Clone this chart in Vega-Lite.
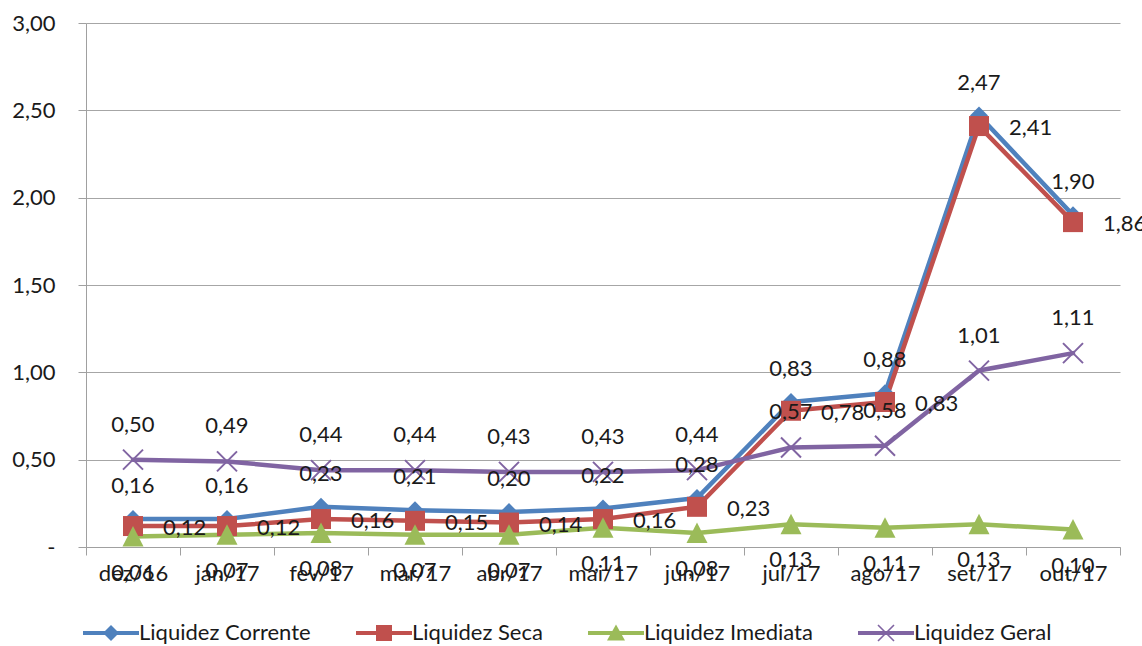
{
  "$schema": "https://vega.github.io/schema/vega-lite/v6.json",
  "width": 1034,
  "height": 524,
  "autosize": {"type": "none"},
  "padding": {"left": 86, "top": 23, "right": 22, "bottom": 99},
  "background": "white",
  "config": {
    "view": {"stroke": null},
    "font": "Lato",
    "locale": {"number": {"decimal": ",", "thousands": ".", "grouping": [3], "currency": ["R$", ""]}},
    "axis": {"labelFont": "Lato", "labelFontSize": 22, "labelColor": "#1a1a1a", "domainColor": "#a0a0a0", "tickColor": "#a0a0a0", "gridColor": "#a6a6a6", "title": null}
  },
  "data": {"values": [
    {"mes": "dez/16", "serie": "Liquidez Corrente", "valor": 0.16},
    {"mes": "jan/17", "serie": "Liquidez Corrente", "valor": 0.16},
    {"mes": "fev/17", "serie": "Liquidez Corrente", "valor": 0.23},
    {"mes": "mar/17", "serie": "Liquidez Corrente", "valor": 0.21},
    {"mes": "abr/17", "serie": "Liquidez Corrente", "valor": 0.20},
    {"mes": "mai/17", "serie": "Liquidez Corrente", "valor": 0.22},
    {"mes": "jun/17", "serie": "Liquidez Corrente", "valor": 0.28},
    {"mes": "jul/17", "serie": "Liquidez Corrente", "valor": 0.83},
    {"mes": "ago/17", "serie": "Liquidez Corrente", "valor": 0.88},
    {"mes": "set/17", "serie": "Liquidez Corrente", "valor": 2.47},
    {"mes": "out/17", "serie": "Liquidez Corrente", "valor": 1.90},
    {"mes": "dez/16", "serie": "Liquidez Seca", "valor": 0.12},
    {"mes": "jan/17", "serie": "Liquidez Seca", "valor": 0.12},
    {"mes": "fev/17", "serie": "Liquidez Seca", "valor": 0.16},
    {"mes": "mar/17", "serie": "Liquidez Seca", "valor": 0.15},
    {"mes": "abr/17", "serie": "Liquidez Seca", "valor": 0.14},
    {"mes": "mai/17", "serie": "Liquidez Seca", "valor": 0.16},
    {"mes": "jun/17", "serie": "Liquidez Seca", "valor": 0.23},
    {"mes": "jul/17", "serie": "Liquidez Seca", "valor": 0.78},
    {"mes": "ago/17", "serie": "Liquidez Seca", "valor": 0.83},
    {"mes": "set/17", "serie": "Liquidez Seca", "valor": 2.41},
    {"mes": "out/17", "serie": "Liquidez Seca", "valor": 1.86},
    {"mes": "dez/16", "serie": "Liquidez Imediata", "valor": 0.06},
    {"mes": "jan/17", "serie": "Liquidez Imediata", "valor": 0.07},
    {"mes": "fev/17", "serie": "Liquidez Imediata", "valor": 0.08},
    {"mes": "mar/17", "serie": "Liquidez Imediata", "valor": 0.07},
    {"mes": "abr/17", "serie": "Liquidez Imediata", "valor": 0.07},
    {"mes": "mai/17", "serie": "Liquidez Imediata", "valor": 0.11},
    {"mes": "jun/17", "serie": "Liquidez Imediata", "valor": 0.08},
    {"mes": "jul/17", "serie": "Liquidez Imediata", "valor": 0.13},
    {"mes": "ago/17", "serie": "Liquidez Imediata", "valor": 0.11},
    {"mes": "set/17", "serie": "Liquidez Imediata", "valor": 0.13},
    {"mes": "out/17", "serie": "Liquidez Imediata", "valor": 0.10},
    {"mes": "dez/16", "serie": "Liquidez Geral", "valor": 0.50},
    {"mes": "jan/17", "serie": "Liquidez Geral", "valor": 0.49},
    {"mes": "fev/17", "serie": "Liquidez Geral", "valor": 0.44},
    {"mes": "mar/17", "serie": "Liquidez Geral", "valor": 0.44},
    {"mes": "abr/17", "serie": "Liquidez Geral", "valor": 0.43},
    {"mes": "mai/17", "serie": "Liquidez Geral", "valor": 0.43},
    {"mes": "jun/17", "serie": "Liquidez Geral", "valor": 0.44},
    {"mes": "jul/17", "serie": "Liquidez Geral", "valor": 0.57},
    {"mes": "ago/17", "serie": "Liquidez Geral", "valor": 0.58},
    {"mes": "set/17", "serie": "Liquidez Geral", "valor": 1.01},
    {"mes": "out/17", "serie": "Liquidez Geral", "valor": 1.11}
  ]},
  "encoding": {
    "x": {
      "field": "mes", "type": "ordinal",
      "sort": ["dez/16", "jan/17", "fev/17", "mar/17", "abr/17", "mai/17", "jun/17", "jul/17", "ago/17", "set/17", "out/17"],
      "scale": {"type": "band", "paddingInner": 0, "paddingOuter": 0},
      "axis": {"title": null, "labelAngle": 0, "tickBand": "extent", "tickSize": 8, "labelPadding": 8, "grid": false}
    },
    "y": {
      "field": "valor", "type": "quantitative",
      "scale": {"domain": [0, 3], "nice": false, "zero": true},
      "axis": {"title": null, "values": [0, 0.5, 1, 1.5, 2, 2.5, 3], "format": ".2f", "labelExpr": "datum.value == 0 ? '-' : datum.label", "tickSize": 8, "labelPadding": 23, "grid": true}
    }
  },
  "resolve": {"scale": {"shape": "independent"}, "legend": {"color": "independent", "shape": "independent"}},
  "layer": [
    {
      "mark": {"type": "line", "strokeWidth": 4.5, "strokeJoin": "round", "strokeCap": "round"},
      "encoding": {
        "color": {"field": "serie", "type": "nominal",
          "scale": {"domain": ["Liquidez Corrente", "Liquidez Seca", "Liquidez Imediata", "Liquidez Geral"], "range": ["#4F81BD", "#C0504D", "#9BBB59", "#8064A2"]},
          "legend": null}
      }
    },
    {
      "mark": {"type": "point", "filled": true, "opacity": 1, "size": 400, "strokeWidth": 0},
      "encoding": {
        "color": {"field": "serie", "type": "nominal",
          "scale": {"domain": ["Liquidez Corrente", "Liquidez Seca", "Liquidez Imediata", "Liquidez Geral"], "range": ["#4F81BD", "#C0504D", "#9BBB59", "#8064A2"]},
          "legend": null},
        "shape": {"field": "serie", "type": "nominal",
          "scale": {"domain": ["Liquidez Corrente", "Liquidez Seca", "Liquidez Imediata", "Liquidez Geral"],
            "range": [
              "M0,-0.9L0.9,0L0,0.9L-0.9,0Z",
              "M-1,-1H1V1H-1Z",
              "M0,-1.05L1.05,1H-1.05Z",
              "M-0.93,-1.07L1.07,0.93L0.93,1.07L-1.07,-0.93Z M-0.93,1.07L-1.07,0.93L0.93,-1.07L1.07,-0.93Z"
            ]},
          "legend": null}
      }
    },
    {
      "mark": {"type": "point", "filled": true, "opacity": 0, "size": 400, "strokeWidth": 0},
      "encoding": {
        "color": {"field": "serie", "type": "nominal",
          "scale": {"domain": ["Liquidez Corrente", "Liquidez Seca", "Liquidez Imediata", "Liquidez Geral"], "range": ["#4F81BD", "#C0504D", "#9BBB59", "#8064A2"]},
          "legend": {
            "orient": "none", "legendX": 14, "legendY": 599, "direction": "horizontal", "title": null,
            "labelFont": "Lato", "labelFontSize": 22, "labelColor": "#1a1a1a", "labelLimit": 400,
            "symbolSize": 400, "labelOffset": 17, "columnPadding": 45, "padding": 0, "symbolStrokeWidth": 0, "symbolOpacity": 1
          }},
        "shape": {"field": "serie", "type": "nominal",
          "scale": {"domain": ["Liquidez Corrente", "Liquidez Seca", "Liquidez Imediata", "Liquidez Geral"],
            "range": [
              "M-2.8,-0.2H2.8V0.2H-2.8Z M0,-0.8L0.8,0L0,0.8L-0.8,0Z",
              "M-2.8,-0.2H2.8V0.2H-2.8Z M-0.8,-0.8H0.8V0.8H-0.8Z",
              "M-2.8,-0.2H2.8V0.2H-2.8Z M0,-0.85L0.9,0.75H-0.9Z",
              "M-2.8,-0.2H2.8V0.2H-2.8Z M-0.743,-0.857L0.857,0.743L0.743,0.857L-0.857,-0.743Z M-0.743,0.857L-0.857,0.743L0.743,-0.857L0.857,-0.743Z"
            ]},
          "legend": null}
      }
    },
    {
      "transform": [{"filter": "datum.serie === 'Liquidez Corrente'"}],
      "mark": {"type": "text", "dy": -33, "fontSize": 22, "font": "Lato", "color": "#1a1a1a"},
      "encoding": {"text": {"field": "valor", "type": "quantitative", "format": ".2f"}}
    },
    {
      "transform": [{"filter": "datum.serie === 'Liquidez Seca'"}],
      "mark": {"type": "text", "dx": 30, "dy": 2, "align": "left", "fontSize": 22, "font": "Lato", "color": "#1a1a1a"},
      "encoding": {"text": {"field": "valor", "type": "quantitative", "format": ".2f"}}
    },
    {
      "transform": [{"filter": "datum.serie === 'Liquidez Imediata'"}],
      "mark": {"type": "text", "dy": 36, "fontSize": 22, "font": "Lato", "color": "#1a1a1a"},
      "encoding": {"text": {"field": "valor", "type": "quantitative", "format": ".2f"}}
    },
    {
      "transform": [{"filter": "datum.serie === 'Liquidez Geral'"}],
      "mark": {"type": "text", "dy": -35, "fontSize": 22, "font": "Lato", "color": "#1a1a1a"},
      "encoding": {"text": {"field": "valor", "type": "quantitative", "format": ".2f"}}
    }
  ]
}
